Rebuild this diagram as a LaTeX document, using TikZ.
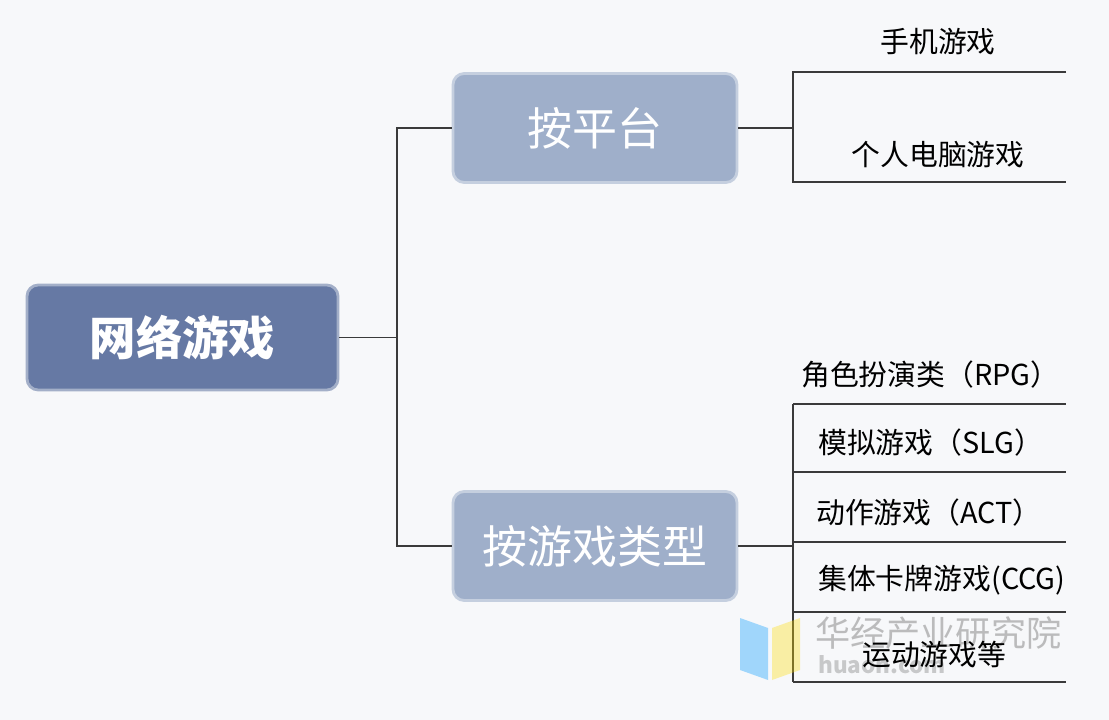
\documentclass[tikz,border=0pt]{standalone}
\usepackage{fontspec}
\setmainfont{Noto Sans CJK SC}
\definecolor{bg}{HTML}{F7F8FA}
\definecolor{rootc}{HTML}{6679A4}
\definecolor{subc}{HTML}{9FAFCA}
\definecolor{linec}{HTML}{3A3A3A}
\begin{document}
\begin{tikzpicture}[x=0.025cm,y=-0.025cm,
  rootbox/.style={draw=rootc!60!white,line width=2pt,fill=rootc,rounded corners=8pt,text=white,font=\fontsize{33}{35}\selectfont\bfseries,minimum width=311*0.025cm,minimum height=105*0.025cm},
  subbox/.style={draw=subc!60!white,line width=2pt,fill=subc,rounded corners=8pt,text=white,font=\fontsize{32}{34}\selectfont,minimum width=284*0.025cm,minimum height=109*0.025cm},
  conn/.style={draw=linec,line width=1pt},
  leaf/.style={font=\fontsize{20.5}{22}\selectfont,text=black,inner sep=0pt}]
\fill[bg] (0,0) rectangle (1109,720);
\node[rootbox] (root) at (182.5,337.5) {网络游戏};
\node[subbox] (plat) at (595,128) {按平台};
\node[subbox] (type) at (595,546) {按游戏类型};
\coordinate (j1) at (397,337.5);
\draw[conn] (root.east) -- (j1);
\draw[conn] (plat.west) -| (j1) |- (type.west);
% platform branch
\coordinate (p1) at (793,72); \coordinate (p2) at (793,182);
\coordinate (p1e) at (1066,72); \coordinate (p2e) at (1066,182);
\draw[conn] (plat.east) -- (793,128);
\draw[conn] (p1e) -- (p1) -- (p2) -- (p2e);
\node[leaf] (l1) at (938,42) {手机游戏};
\node[leaf] (l2) at (938,155) {个人电脑游戏};
% type branch
\foreach \i/\y in {a/404,b/472,c/542,d/612,e/682}{
  \coordinate (t\i) at (793,\y); \coordinate (t\i e) at (1066,\y);
  \draw[conn] (t\i) -- (t\i e);}
\draw[conn] (ta) -- (te);
\draw[conn] (type.east) -- (793,546);
\node[leaf,anchor=west] (m1) at (801,375) {角色扮演类（RPG）};
\node[leaf,anchor=west] (m2) at (818,443) {模拟游戏（SLG）};
\node[leaf,anchor=west] (m3) at (816,513) {动作游戏（ACT）};
\node[leaf,anchor=west] (m4) at (818,580) {集体卡牌游戏(CCG)};
% watermark
\fill[blue!40!cyan,opacity=0.35] (740,618) -- (768,628) -- (768,680) -- (740,670) -- cycle;
\fill[yellow!80!orange,opacity=0.35] (772,628) -- (800,618) -- (800,670) -- (772,680) -- cycle;
\node[font=\fontsize{25}{27}\selectfont,text=gray,opacity=0.5,anchor=west,inner sep=0pt] (wm) at (815,633) {华经产业研究院};
\node[font=\fontsize{16}{18}\selectfont\bfseries,text=gray,opacity=0.4,anchor=west,inner sep=0pt] (wm2) at (818,665) {huaon.com};
\node[leaf,anchor=west] (m5) at (862,655) {运动游戏等};
\end{tikzpicture}
\end{document}
